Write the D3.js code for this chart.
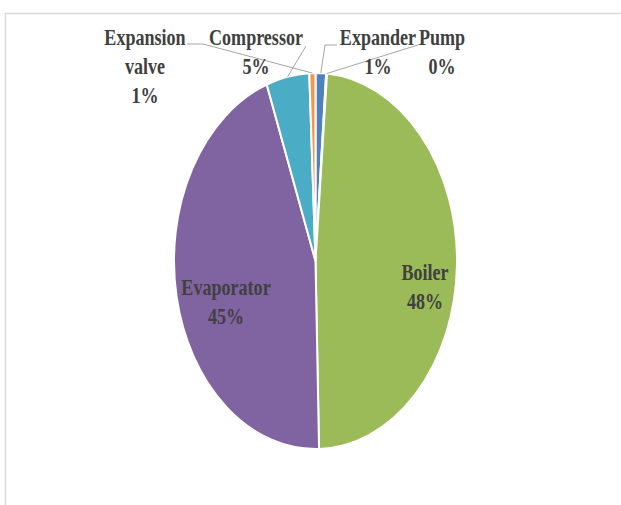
<!DOCTYPE html>
<html>
<head>
<meta charset="utf-8">
<script src="https://cdn.jsdelivr.net/npm/d3@7"></script>
<style>
  html, body { margin: 0; padding: 0; background: #fff; }
  svg { display: block; }
</style>
</head>
<body>
<svg id="chart" width="621" height="505"></svg>
<script>
// ---- data ----
const categories = ["Expander", "Pump", "Boiler", "Evaporator", "Compressor", "Expansion valve"];
const values     = [1.2, 0.1, 48.3, 44.8, 4.9, 0.7];
const pctLabels  = ["1%", "0%", "48%", "45%", "5%", "1%"];
const colors     = ["#4F81BD", "#C0504D", "#9BBB59", "#8064A2", "#4BACC6", "#F79646"];

// label layout (screen coords): lines of text, centre x, first baseline, leader elbow points
const labelLayout = [
  { lines: ["Expander", "1%"], x: 378, y: 45, leader: [[337, 45], [325, 45]] },
  { lines: ["Pump", "0%"], x: 442, y: 45, leader: [[421, 44]] },
  { lines: ["Boiler", "48%"], x: 425, y: 280, leader: null },
  { lines: ["Evaporator", "45%"], x: 226, y: 295, leader: null },
  { lines: ["Compressor", "5%"], x: 256, y: 45, leader: [[306, 46]] },
  { lines: ["Expansion", "valve", "1%"], x: 145, y: 45, leader: [[187, 44], [203, 44]] }
];

const svg = d3.select("#chart");
const cx = 315.5, cy = 261, ry = 188, rx = 141.5, sx = rx / ry;

// frame
svg.append("rect").attr("x", 5.5).attr("y", 13.5).attr("width", 700).attr("height", 600)
  .attr("fill", "none").attr("stroke", "#d9d9d9").attr("stroke-width", 1.5);

const pie = d3.pie().sort(null).value(d => d.v).startAngle(0).endAngle(2 * Math.PI);
const data = categories.map((c, i) => ({ c, v: values[i], col: colors[i], p: pctLabels[i], L: labelLayout[i] }));
const arcs = pie(data);
const arc = d3.arc().innerRadius(0).outerRadius(ry);

const g = svg.append("g").attr("transform", `translate(${cx},${cy}) scale(${sx},1)`);
g.selectAll("path").data(arcs).enter().append("path")
  .attr("d", arc)
  .attr("fill", d => d.data.col)
  .attr("stroke", "#fff")
  .attr("stroke-width", 2)
  .attr("vector-effect", "non-scaling-stroke");

// leader lines
arcs.forEach(d => {
  const L = d.data.L;
  if (!L.leader) return;
  const a = (d.startAngle + d.endAngle) / 2;
  const end = [cx + rx * Math.sin(a), cy - ry * Math.cos(a)];
  const pts = L.leader.concat([end]);
  svg.append("path")
    .attr("d", d3.line()(pts))
    .attr("fill", "none")
    .attr("stroke", "#a6a6a6")
    .attr("stroke-width", 1);
});

// labels
arcs.forEach(d => {
  const L = d.data.L;
  const t = svg.append("text")
    .attr("transform", `translate(${L.x},${L.y}) scale(${sx},1)`)
    .attr("text-anchor", "middle")
    .attr("font-family", "'Liberation Serif', 'Times New Roman', serif")
    .attr("font-weight", "bold")
    .attr("font-size", 24)
    .attr("fill", "#404040");
  L.lines.forEach((ln, i) => {
    t.append("tspan").attr("x", 0).attr("y", i * 29).text(ln);
  });
});
</script>
</body>
</html>
